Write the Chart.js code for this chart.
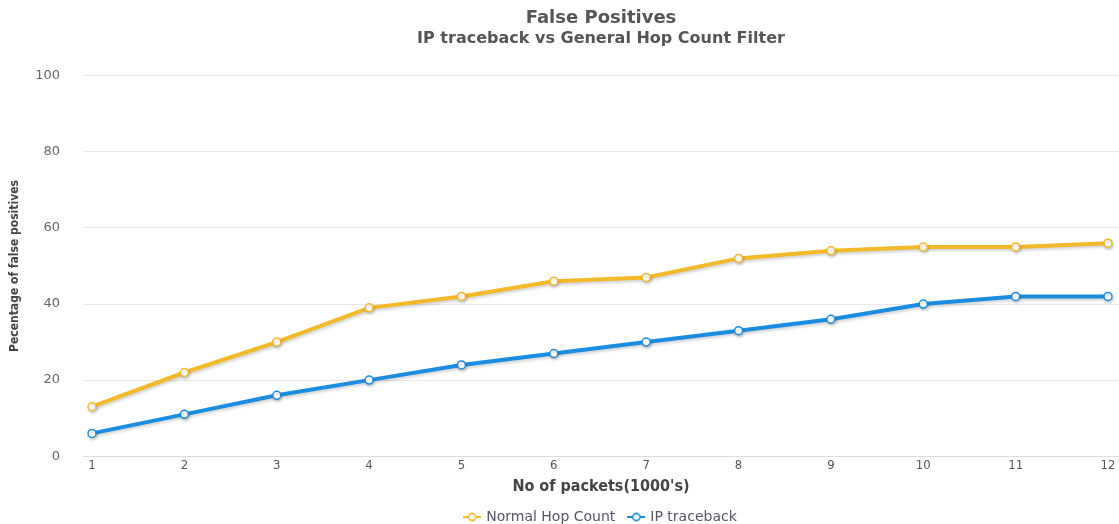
<!DOCTYPE html>
<html>
<head>
<meta charset="utf-8">
<script src="https://cdn.jsdelivr.net/npm/chart.js@4"></script>
<style>
  html, body { margin: 0; padding: 0; background: #fff; }
  #wrap { width: 1119px; height: 524px; }
</style>
</head>
<body>
<div id="wrap"><canvas id="c" width="1119" height="524"></canvas></div>
<script>
// Packets sent (thousands) and the false-positive rate for each filter
const packets = [1, 2, 3, 4, 5, 6, 7, 8, 9, 10, 11, 12];
const normalHopCount = [13, 22, 30, 39, 42, 46, 47, 52, 54, 55, 55, 56];
const ipTraceback = [6, 11, 16, 20, 24, 27, 30, 33, 36, 40, 42, 42];
const yTicks = [0, 20, 40, 60, 80, 100];

const YELLOW = '#f2b929';
const BLUE = '#1a8de0';

const pairs = (ys) => packets.map((x, i) => ({ x: x, y: ys[i] }));

// legend symbol: short line with a hollow circle on it
function legendSymbol(color) {
  const c = document.createElement('canvas');
  c.width = 18; c.height = 10;
  const g = c.getContext('2d');
  g.strokeStyle = color;
  g.lineWidth = 2;
  g.beginPath(); g.moveTo(0, 5); g.lineTo(18, 5); g.stroke();
  g.beginPath(); g.arc(9, 5, 3.6, 0, Math.PI * 2);
  g.fillStyle = '#ffffff'; g.fill();
  g.lineWidth = 1.6; g.stroke();
  return c;
}

// soft drop shadow under the series lines
const lineShadow = {
  id: 'lineShadow',
  beforeDatasetsDraw(chart) {
    const ctx = chart.ctx;
    ctx.save();
    ctx.shadowColor = 'rgba(0,0,0,0.18)';
    ctx.shadowBlur = 3;
    ctx.shadowOffsetX = 1;
    ctx.shadowOffsetY = 2;
  },
  afterDatasetsDraw(chart) {
    chart.ctx.restore();
  }
};

const series = [
  { label: 'Normal Hop Count', values: normalHopCount, color: YELLOW },
  { label: 'IP traceback', values: ipTraceback, color: BLUE }
];

new Chart(document.getElementById('c'), {
  type: 'line',
  data: {
    datasets: series.map(s => ({
      label: s.label,
      data: pairs(s.values),
      borderColor: s.color,
      backgroundColor: '#ffffff',
      borderWidth: 4,
      pointRadius: 4,
      pointBorderWidth: 1.5,
      pointBorderColor: s.color,
      pointBackgroundColor: '#ffffff',
      tension: 0,
      clip: 8
    }))
  },
  options: {
    responsive: false,
    animation: false,
    layout: { autoPadding: false, padding: 0 },
    plugins: {
      title: {
        display: true,
        fullSize: false,
        text: 'False Positives',
        color: '#555555',
        font: { family: 'DejaVu Sans', size: 18, weight: 'bold' },
        padding: { top: 8, bottom: 0 }
      },
      subtitle: {
        display: true,
        fullSize: false,
        text: 'IP traceback vs General Hop Count Filter',
        color: '#555555',
        font: { family: 'DejaVu Sans', size: 16, weight: 'bold' },
        padding: { top: 0, bottom: 27 }
      },
      legend: {
        position: 'bottom',
        fullSize: false,
        maxHeight: 28,
        labels: {
          usePointStyle: true,
          boxWidth: 18,
          boxHeight: 10,
          color: '#555566',
          font: { family: 'DejaVu Sans', size: 14 },
          padding: 14,
          generateLabels(chart) {
            return chart.data.datasets.map((ds, i) => ({
              text: ds.label,
              pointStyle: legendSymbol(ds.borderColor),
              datasetIndex: i,
              fontColor: '#555566'
            }));
          }
        }
      },
      tooltip: { enabled: false }
    },
    scales: {
      x: {
        type: 'linear',
        min: 0.9026,
        max: 12.119,
        afterBuildTicks(scale) {
          scale.ticks = packets.map(v => ({ value: v }));
        },
        afterFit(scale) {
          scale.paddingLeft = 0;
          scale.paddingRight = 0;
        },
        grid: { display: false, drawTicks: false },
        border: { display: true, color: '#dcdcdc' },
        ticks: {
          color: '#555555',
          font: { family: 'DejaVu Sans Condensed', size: 13 },
          padding: 2,
          maxRotation: 0,
          callback: v => String(v)
        },
        title: {
          display: true,
          text: "No of packets(1000's)",
          color: '#444444',
          font: { family: 'DejaVu Sans Condensed', size: 16, weight: 'bold' },
          padding: { top: 1, bottom: 0 }
        }
      },
      y: {
        min: 0,
        max: 100,
        afterBuildTicks(scale) {
          scale.ticks = yTicks.map(v => ({ value: v }));
        },
        afterFit(scale) { scale.width = 83; },
        grid: { color: '#e8e8e8', drawTicks: false },
        border: { display: false },
        ticks: {
          color: '#666666',
          font: { family: 'DejaVu Sans', size: 13 },
          padding: 23
        },
        title: {
          display: true,
          text: 'Pecentage of false positives',
          color: '#444444',
          font: { family: 'DejaVu Sans Condensed', size: 12, weight: 'bold' },
          padding: { top: 8, bottom: 0 }
        }
      }
    }
  },
  plugins: [lineShadow]
});
</script>
</body>
</html>
